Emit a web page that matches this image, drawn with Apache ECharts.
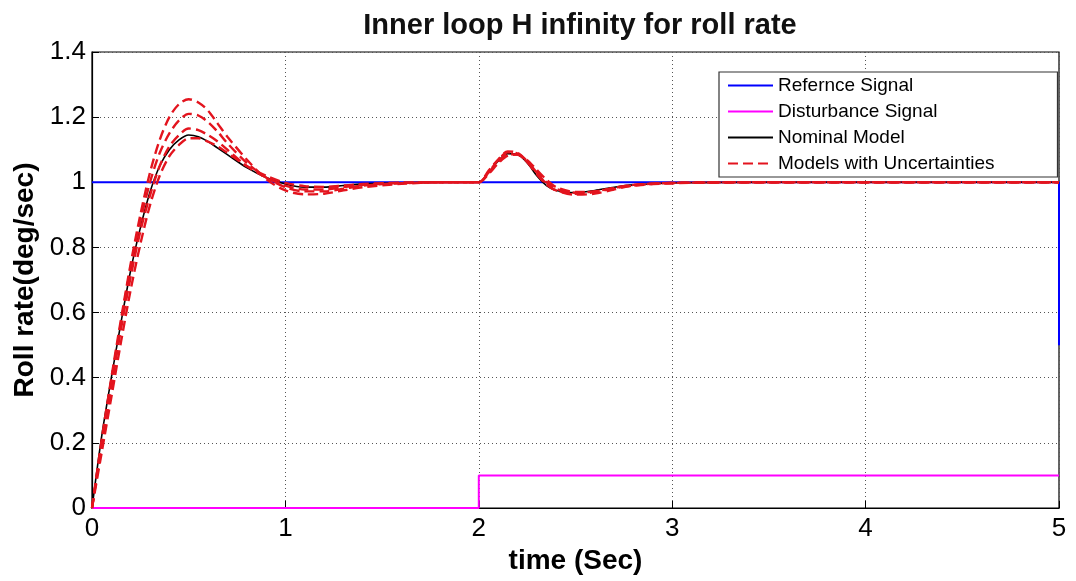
<!DOCTYPE html>
<html>
<head>
<meta charset="utf-8">
<script src="https://cdn.jsdelivr.net/npm/echarts@6/dist/echarts.min.js"></script>
<style>html,body{margin:0;padding:0;background:#fff}#c{width:1076px;height:581px}</style>
</head>
<body>
<div id="c"></div>
<script>
// ---- data ----
const titleText = 'Inner loop H infinity for roll rate';
const xName = 'time (Sec)';
const yName = 'Roll rate(deg/sec)';
const legendNames = ['Refernce Signal', 'Disturbance Signal', 'Nominal Model', 'Models with Uncertainties'];

const time = [0,0.05,0.1,0.15,0.2,0.25,0.3,0.35,0.4,0.45,0.5,0.55,0.6,0.65,0.7,0.8,0.9,1.0,1.1,1.2,1.3,1.4,1.6,1.8,2.0,2.05,2.1,2.15,2.2,2.25,2.3,2.35,2.4,2.5,2.6,2.7,2.8,3.0,3.5,4.0,5.0];

const refT = [0, 5, 5];
const refY = [1, 1, 0.5];
const distT = [0, 2, 2, 5];
const distY = [0, 0, 0.1, 0.1];

const nominal = [0,0.22,0.40,0.57,0.73,0.86,0.97,1.05,1.10,1.13,1.145,1.14,1.125,1.105,1.085,1.045,1.015,0.995,0.985,0.985,0.99,0.995,0.998,1.0,1.0,1.03,1.065,1.088,1.085,1.06,1.02,0.99,0.975,0.968,0.975,0.985,0.992,0.998,1.0,1.0,1.0];

const unc1 = [0,0.21,0.40,0.58,0.75,0.90,1.03,1.13,1.20,1.24,1.255,1.245,1.22,1.18,1.14,1.07,1.01,0.975,0.963,0.965,0.975,0.985,0.995,1.0,1.0,1.035,1.07,1.095,1.09,1.065,1.03,0.995,0.975,0.962,0.965,0.978,0.99,0.998,1.0,1.0,1.0];
const unc2 = [0,0.20,0.39,0.57,0.74,0.88,1.00,1.09,1.15,1.19,1.21,1.205,1.185,1.155,1.12,1.06,1.015,0.985,0.972,0.972,0.98,0.99,0.997,1.0,1.0,1.03,1.068,1.092,1.088,1.062,1.025,0.993,0.975,0.965,0.97,0.982,0.992,0.998,1.0,1.0,1.0];
const unc3 = [0,0.19,0.37,0.55,0.71,0.85,0.96,1.05,1.11,1.145,1.165,1.16,1.145,1.125,1.10,1.05,1.015,0.99,0.978,0.978,0.985,0.992,0.998,1.0,1.0,1.028,1.062,1.086,1.085,1.063,1.03,1.0,0.98,0.968,0.972,0.983,0.992,0.998,1.0,1.0,1.0];
const unc4 = [0,0.17,0.34,0.51,0.67,0.81,0.93,1.02,1.08,1.115,1.135,1.135,1.125,1.11,1.09,1.05,1.02,0.998,0.988,0.986,0.99,0.995,0.999,1.0,1.0,1.025,1.058,1.082,1.085,1.068,1.038,1.008,0.985,0.97,0.972,0.982,0.99,0.997,1.0,1.0,1.0];

// ---- build ----
function pairs(xs, ys){ return xs.map((x,i)=>[x, ys[i]]); }
const font = 'Arial, "Liberation Sans", Helvetica, sans-serif';
const red = '#e3141e';

const series = [
  {name: legendNames[0], type:'line', data: pairs(refT, refY), symbol:'none', lineStyle:{color:'#0000ff', width:2}, itemStyle:{color:'#0000ff'}, z:2},
  {name: legendNames[1], type:'line', data: pairs(distT, distY), symbol:'none', lineStyle:{color:'#ff00ff', width:2}, itemStyle:{color:'#ff00ff'}, z:2},
  {name: legendNames[2], type:'line', data: pairs(time, nominal), symbol:'none', smooth:0.3, lineStyle:{color:'#000000', width:1.6}, itemStyle:{color:'#000000'}, z:3}
];
[unc1, unc2, unc3, unc4].forEach(u => {
  series.push({name: legendNames[3], type:'line', data: pairs(time, u), symbol:'none', smooth:0.3,
    lineStyle:{color:red, width:2.4, type:[10,5]}, itemStyle:{color:red}, z:4});
});

const chart = echarts.init(document.getElementById('c'), null, {renderer:'canvas'});
chart.setOption({
  animation:false,
  backgroundColor:'#ffffff',
  title:{text:titleText, left:575, textAlign:'center', top:6,
    textStyle:{fontFamily:font, fontSize:29, fontWeight:'bold', color:'#111'}},
  grid:{left:92, right:17, top:52, bottom:73, show:true, borderColor:'#000', borderWidth:1.2, backgroundColor:'transparent'},
  legend:{
    show:true,
    data:legendNames,
    orient:'vertical', left:719, top:72,
    itemWidth:45, itemHeight:12, itemGap:7,
    padding:[4, 63, 4, 8],
    itemStyle:{opacity:0},
    backgroundColor:'#ffffff', borderColor:'#333', borderWidth:1.2, borderRadius:0,
    textStyle:{fontFamily:font, fontSize:19, color:'#000'}
  },
  xAxis:{type:'value', min:0, max:5, interval:1,
    name:xName, nameLocation:'middle', nameGap:38,
    nameTextStyle:{fontFamily:font, fontSize:28, fontWeight:'bold', color:'#000'},
    axisLine:{show:true, onZero:false, lineStyle:{color:'#000', width:1.2}},
    axisTick:{show:true, inside:true, length:7, lineStyle:{color:'#000'}},
    axisLabel:{fontFamily:font, fontSize:26, color:'#000', margin:8},
    splitLine:{show:true, lineStyle:{color:'#555', type:[1,3], width:1}}
  },
  yAxis:{type:'value', min:0, max:1.4, interval:0.2,
    name:yName, nameLocation:'middle', nameGap:50, nameRotate:90,
    nameTextStyle:{fontFamily:font, fontSize:28, fontWeight:'bold', color:'#000'},
    axisLine:{show:true, onZero:false, lineStyle:{color:'#000', width:1.2}},
    axisTick:{show:true, inside:true, length:7, lineStyle:{color:'#000'}},
    axisLabel:{fontFamily:font, fontSize:26, color:'#000', margin:6},
    splitLine:{show:true, lineStyle:{color:'#555', type:[1,3], width:1}}
  },
  series: series
});
</script>
</body>
</html>
